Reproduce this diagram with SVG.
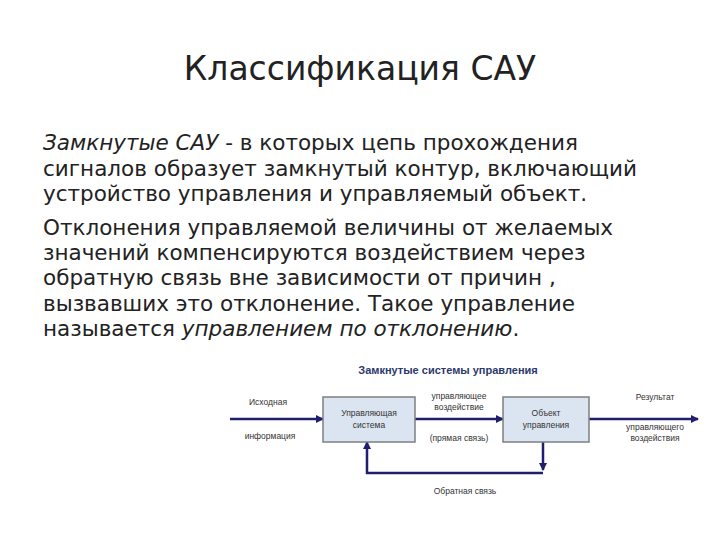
<svg xmlns="http://www.w3.org/2000/svg" width="720" height="540" viewBox="0 0 720 540">
<style>
.t{font-family:"DejaVu Sans",Verdana,sans-serif;fill:#222}
.b{font-size:21.5px}
.s{font-family:"Liberation Sans",Arial,sans-serif;font-size:8.5px;fill:#333;text-anchor:middle}
.box{fill:#dbe5f1;stroke:#7f7f7f;stroke-width:1.5}
.ln{stroke:#1f1f6e;stroke-width:2.5;fill:none}
</style>
<defs><marker id="a" markerWidth="8" markerHeight="8" refX="7" refY="4" orient="auto" markerUnits="userSpaceOnUse"><path d="M0,0L8,4L0,8z" fill="#1f1f6e"/></marker></defs>
<rect width="720" height="540" fill="#fff"/>
<text class="t" x="360" y="80" font-size="33" text-anchor="middle">Классификация САУ</text>
<g class="t b">
<text x="43" y="150"><tspan font-style="italic">Замкнутые САУ</tspan> - в которых цепь прохождения</text>
<text x="43" y="176">сигналов образует замкнутый контур, включающий</text>
<text x="43" y="201">устройство управления и управляемый объект.</text>
<text x="43" y="235">Отклонения управляемой величины от желаемых</text>
<text x="43" y="260">значений компенсируются воздействием через</text>
<text x="43" y="285">обратную связь вне зависимости от причин ,</text>
<text x="43" y="311">вызвавших это отклонение. Такое управление</text>
<text x="43" y="336">называется <tspan font-style="italic">управлением по отклонению</tspan>.</text>
</g>
<text x="448" y="374" font-family="Liberation Sans,Arial,sans-serif" font-size="11" font-weight="bold" fill="#2b3a6b" text-anchor="middle">Замкнутые системы управления</text>
<g id="connectors">
<path class="ln" d="M230,419H323" marker-end="url(#a)"/>
<path class="ln" d="M415,419H503" marker-end="url(#a)"/>
<path class="ln" d="M589,419H698" marker-end="url(#a)"/>
<path class="ln" d="M543,442V470" marker-end="url(#a)"/>
<path class="ln" d="M543,473H367V442" marker-end="url(#a)"/>
</g>
<g id="n1"><rect class="box" x="323" y="397" width="92" height="45"/><text class="s" x="369" y="416" font-size="10">Управляющая</text><text class="s" x="369" y="428" font-size="10">система</text></g>
<g id="n2"><rect class="box" x="503" y="397" width="86" height="45"/><text class="s" x="546" y="416" font-size="10">Объект</text><text class="s" x="546" y="428" font-size="10">управления</text></g>
<text class="s" x="268" y="405">Исходная</text>
<text class="s" x="270" y="439">информация</text>
<text class="s" x="459" y="399">управляющее</text>
<text class="s" x="459" y="410">воздействие</text>
<text class="s" x="459" y="441">(прямая связь)</text>
<text class="s" x="655" y="400">Результат</text>
<text class="s" x="655" y="430">управляющего</text>
<text class="s" x="655" y="441">воздействия</text>
<text class="s" x="465" y="494">Обратная связь</text>
</svg>
